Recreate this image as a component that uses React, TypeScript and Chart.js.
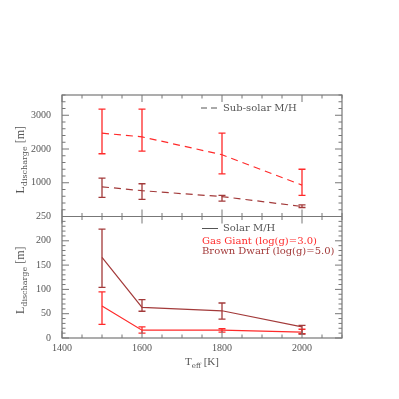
import React, { useEffect, useRef } from "react";
import { Chart, registerables } from "chart.js";
Chart.register(...registerables);

const temps = [1500, 1600, 1800, 2000];
const ggSub = [2470, 2360, 1830, 930];
const ggSubLo = [1860, 1940, 1265, 625];
const ggSubHi = [3180, 3180, 2470, 1400];
const bdSub = [880, 765, 590, 297];
const bdSubLo = [565, 505, 455, 267];
const bdSubHi = [1135, 970, 625, 347];
const ggSol = [66, 16, 16, 12];
const ggSolLo = [28, 10, 12, 9];
const ggSolHi = [95, 23, 19, 18];
const bdSol = [166, 63, 56, 23];
const bdSolLo = [104, 55, 39, 8];
const bdSolHi = [224, 79, 72, 26];
const xTicks = [1400, 1600, 1800, 2000];
const topTicks = [1000, 2000, 3000];
const botTicks = [0, 50, 100, 150, 200, 250];

const RED = "#ff2a2a";
const BROWN = "#a33a3a";
const AXIS = "#777777";
const TEXT = "#555555";
const TICKFONT = { family: "Liberation Serif", size: 10 };

function mk(vals: number[], lo: number[], hi: number[], color: string, axis: string, dashed: boolean) {
  return {
    data: temps.map((t, i) => ({ x: t, y: vals[i] })),
    errLo: lo,
    errHi: hi,
    yAxisID: axis,
    borderColor: color,
    borderWidth: 1.2,
    borderDash: dashed ? [7, 5] : [],
    pointRadius: 0,
    fill: false,
    tension: 0,
  };
}

type Part = [string, string, number];
function drawSubText(ctx: CanvasRenderingContext2D, parts: Part[], cx: number, cy: number) {
  let total = 0;
  for (const [t, f] of parts) {
    ctx.font = f;
    total += ctx.measureText(t).width;
  }
  let x = cx - total / 2;
  for (const [t, f, off] of parts) {
    ctx.font = f;
    ctx.fillText(t, x, cy + off);
    x += ctx.measureText(t).width;
  }
}

const MAINF = '12px "Liberation Serif"';
const SUBF = '8px "DejaVu Serif"';

const decor = {
  id: "decor",
  afterDatasetsDraw(chart: any) {
    const ctx: CanvasRenderingContext2D = chart.ctx;
    const ca = chart.chartArea;
    const x = chart.scales.x;
    const yt = chart.scales.yTop;
    const yb = chart.scales.yBot;
    chart.data.datasets.forEach((ds: any) => {
      const ys = chart.scales[ds.yAxisID];
      ctx.save();
      ctx.strokeStyle = ds.borderColor;
      ctx.lineWidth = 1.3;
      ctx.setLineDash([]);
      ds.data.forEach((p: any, i: number) => {
        const px = x.getPixelForValue(p.x);
        const lo = ys.getPixelForValue(ds.errLo[i]);
        const hi = ys.getPixelForValue(ds.errHi[i]);
        ctx.beginPath();
        ctx.moveTo(px, lo);
        ctx.lineTo(px, hi);
        ctx.moveTo(px - 3.5, lo);
        ctx.lineTo(px + 3.5, lo);
        ctx.moveTo(px - 3.5, hi);
        ctx.lineTo(px + 3.5, hi);
        ctx.stroke();
      });
      ctx.restore();
    });

    ctx.save();
    ctx.strokeStyle = AXIS;
    ctx.lineWidth = 1.2;
    ctx.setLineDash([]);
    const div = yb.top;
    ctx.strokeRect(ca.left, ca.top, ca.right - ca.left, ca.bottom - ca.top);
    ctx.beginPath();
    ctx.moveTo(ca.left, div);
    ctx.lineTo(ca.right, div);
    ctx.stroke();

    ctx.lineWidth = 1;
    ctx.beginPath();
    const MAJ = 7, MIN = 3.5;
    for (let v = 1400; v <= 2100; v += 50) {
      const px = x.getPixelForValue(v);
      const L = v % 200 === 0 ? MAJ : MIN;
      ctx.moveTo(px, ca.bottom); ctx.lineTo(px, ca.bottom - L);
      ctx.moveTo(px, div); ctx.lineTo(px, div + L);
      ctx.moveTo(px, div); ctx.lineTo(px, div - L);
      ctx.moveTo(px, ca.top); ctx.lineTo(px, ca.top + L);
    }
    for (let v = 0; v <= 3600; v += 200) {
      const py = yt.getPixelForValue(v);
      const L = v % 1000 === 0 ? MAJ : MIN;
      ctx.moveTo(ca.left, py); ctx.lineTo(ca.left + L, py);
      ctx.moveTo(ca.right, py); ctx.lineTo(ca.right - L, py);
    }
    for (let v = 0; v <= 250; v += 10) {
      const py = yb.getPixelForValue(v);
      const L = v % 50 === 0 ? MAJ : MIN;
      ctx.moveTo(ca.left, py); ctx.lineTo(ca.left + L, py);
      ctx.moveTo(ca.right, py); ctx.lineTo(ca.right - L, py);
    }
    ctx.stroke();
    ctx.restore();

    ctx.save();
    ctx.textBaseline = "middle";
    ctx.textAlign = "left";
    const lx = ca.left + 139;
    ctx.strokeStyle = "#555555";
    ctx.lineWidth = 1;
    ctx.setLineDash([6, 4]);
    ctx.beginPath();
    ctx.moveTo(lx, ca.top + 13);
    ctx.lineTo(lx + 18, ca.top + 13);
    ctx.stroke();
    ctx.setLineDash([]);
    ctx.beginPath();
    ctx.moveTo(lx + 1, div + 12);
    ctx.lineTo(lx + 17, div + 12);
    ctx.stroke();
    ctx.font = '10px "DejaVu Serif"';
    ctx.fillStyle = TEXT;
    ctx.fillText("Sub-solar M/H", lx + 22, ca.top + 13);
    ctx.fillText("Solar M/H", lx + 22, div + 12);
    ctx.fillStyle = RED;
    ctx.fillText("Gas Giant (log(g)=3.0)", lx + 1, div + 24.5);
    ctx.fillStyle = BROWN;
    ctx.fillText("Brown Dwarf (log(g)=5.0)", lx + 1, div + 35);

    ctx.fillStyle = TEXT;
    ctx.textBaseline = "alphabetic";
    const yParts: Part[] = [["L", MAINF, 0], ["discharge", SUBF, 3], [" [m]", MAINF, 0]];
    ctx.save();
    ctx.translate(24, (yt.top + yt.bottom) / 2 + 4);
    ctx.rotate(-Math.PI / 2);
    drawSubText(ctx, yParts, 0, 0);
    ctx.restore();
    ctx.save();
    ctx.translate(24, (yb.top + yb.bottom) / 2 + 3);
    ctx.rotate(-Math.PI / 2);
    drawSubText(ctx, yParts, 0, 0);
    ctx.restore();
    drawSubText(ctx, [["T", '11px "Liberation Serif"', 0], ["eff", '7px "DejaVu Serif"', 3], [" [K]", '11px "Liberation Serif"', 0]], (ca.left + ca.right) / 2, 365);
    ctx.restore();
  },
};

const fmt = (v: any) => String(v);

export default function App() {
  const ref = useRef<HTMLCanvasElement>(null);
  useEffect(() => {
    if (!ref.current) return;
    const chart = new Chart(ref.current, {
      type: "line",
      data: {
        datasets: [
          mk(ggSub, ggSubLo, ggSubHi, RED, "yTop", true),
          mk(bdSub, bdSubLo, bdSubHi, BROWN, "yTop", true),
          mk(ggSol, ggSolLo, ggSolHi, RED, "yBot", false),
          mk(bdSol, bdSolLo, bdSolHi, BROWN, "yBot", false),
        ] as any,
      },
      options: {
        responsive: false,
        animation: false,
        layout: { padding: { left: 0, top: 95, right: 57, bottom: 0 } },
        plugins: { legend: { display: false }, tooltip: { enabled: false } },
        scales: {
          x: {
            type: "linear",
            min: 1400,
            max: 2100,
            grid: { display: false, drawTicks: false },
            border: { display: false },
            ticks: { font: TICKFONT, color: TEXT, padding: 4, maxRotation: 0, autoSkip: false, callback: fmt },
            afterBuildTicks: (s: any) => { s.ticks = xTicks.map((v) => ({ value: v })); },
            afterFit: (s: any) => { s.height = 61; },
          },
          yBot: {
            type: "linear",
            position: "left",
            stack: "v",
            stackWeight: 1,
            min: 0,
            max: 250,
            grid: { display: false, drawTicks: false },
            border: { display: false },
            ticks: { font: TICKFONT, color: TEXT, padding: 11, autoSkip: false, callback: fmt },
            afterBuildTicks: (s: any) => { s.ticks = botTicks.map((v) => ({ value: v })); },
            afterFit: (s: any) => { s.width = 62; },
          },
          yTop: {
            type: "linear",
            position: "left",
            stack: "v",
            stackWeight: 1,
            min: 0,
            max: 3600,
            grid: { display: false, drawTicks: false },
            border: { display: false },
            ticks: { font: TICKFONT, color: TEXT, padding: 11, autoSkip: false, callback: fmt },
            afterBuildTicks: (s: any) => { s.ticks = topTicks.map((v) => ({ value: v })); },
            afterFit: (s: any) => { s.width = 62; },
          },
        },
      } as any,
      plugins: [decor],
    });
    return () => chart.destroy();
  }, []);
  return (
    <div style={{ position: "fixed", left: 0, top: 0, width: 399, height: 399, background: "#fff" }}>
      <canvas ref={ref} width={399} height={399} style={{ width: 399, height: 399, display: "block" }} />
    </div>
  );
}
